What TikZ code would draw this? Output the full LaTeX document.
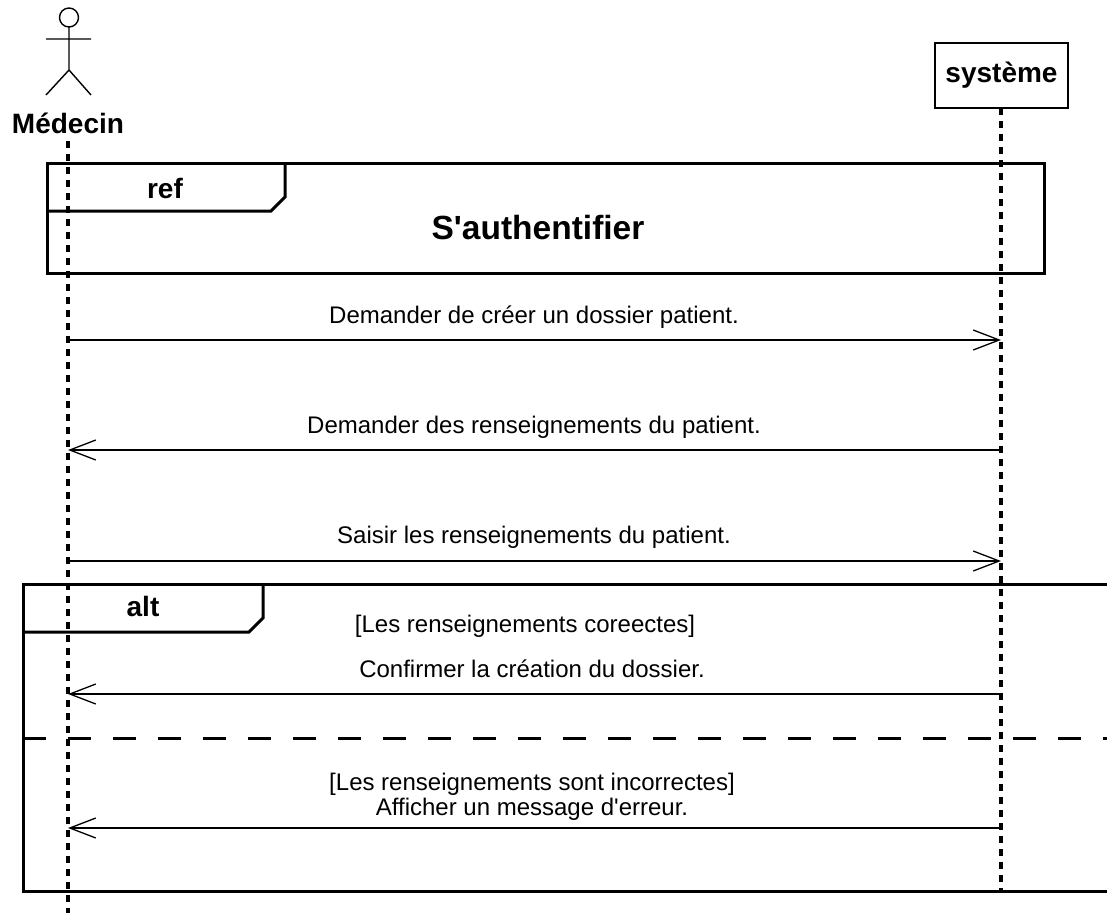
\documentclass[tikz,border=0pt]{standalone}
\usepackage{fontspec}
\setmainfont{Liberation Sans}[Ligatures=TeXOff]
\usetikzlibrary{arrows.meta}
\begin{document}
\begin{tikzpicture}[x=1pt,y=-1pt,
  msg/.style={anchor=base,inner sep=0pt,font=\fontsize{24}{28}\selectfont},
  lbl/.style={anchor=base,inner sep=0pt,font=\fontsize{28}{32}\selectfont\bfseries},
  frameline/.style={line width=3pt},
  lifeline/.style={line width=3.5pt,dash pattern=on 7pt off 6pt},
  call/.style={line width=1.3pt,-{Straight Barb[length=26pt,width=20pt,line width=1.3pt]}},
  stick/.style={line width=1.4pt},
]
\clip (0,0) rectangle (1107,913);
\fill[white] (0,0) rectangle (1107,913);

% actor
\draw[stick] (69,17.5) circle (9.5pt);
\draw[stick] (69,27) -- (69,70) (46,39) -- (91,39) (46,95) -- (69,70) -- (91,95);
\node[lbl] (medecin) at (68,133) {Médecin};

% system
\node[draw,line width=1.8pt,minimum width=133pt,minimum height=65pt,inner sep=0pt,
      font=\fontsize{28}{32}\selectfont\bfseries] (sys) at (1001.5,75.5) {système};

% ref frame
\draw[frameline] (47,163) rectangle (1044,273);
\draw[frameline] (47,211) -- (271,211) -- (285,197) -- (285,163);
\node[lbl] (ref) at (165,198) {ref};
\node[anchor=base,inner sep=0pt,font=\fontsize{33.5}{38}\selectfont\bfseries] (auth) at (538,239) {S'authentifier};

% alt frame
\draw[frameline] (1120,584) -- (23,584) -- (23,891) -- (1120,891);
\draw[frameline] (23,632) -- (249,632) -- (263,618) -- (263,584);
\draw[frameline,dash pattern=on 23pt off 22pt] (23,738) -- (1120,738);
\node[lbl] (alt) at (143,616) {alt};

% lifelines
\coordinate (mtop) at (68,141);
\coordinate (mbot) at (68,913);
\coordinate (stop) at (1001,108);
\coordinate (sbot) at (1001,891);
\draw[lifeline] (mtop) -- (mbot);
\draw[lifeline] (stop) -- (sbot);

% messages
\coordinate (m1) at (68,340);  \coordinate (s1) at (1001,340);
\coordinate (m2) at (68,450);  \coordinate (s2) at (1001,450);
\coordinate (m3) at (68,561);  \coordinate (s3) at (1001,561);
\coordinate (m4) at (68,694);  \coordinate (s4) at (1001,694);
\coordinate (m5) at (68,828);  \coordinate (s5) at (1001,828);

\draw[call] (m1) -- (s1);
\node[msg] (t1) at (534,323) {Demander de créer un dossier patient.};
\draw[call] (s2) -- (m2);
\node[msg] (t2) at (534,433) {Demander des renseignements du patient.};
\draw[call] (m3) -- (s3);
\node[msg] (t3) at (534,543) {Saisir les renseignements du patient.};
\node[msg] (g1) at (525,632) {[Les renseignements coreectes]};
\draw[call] (s4) -- (m4);
\node[msg] (t4) at (532,677) {Confirmer la création du dossier.};
\node[msg] (g2) at (532,790) {[Les renseignements sont incorrectes]};
\draw[call] (s5) -- (m5);
\node[msg] (t5) at (532,815) {Afficher un message d'erreur.};
\end{tikzpicture}
\end{document}
